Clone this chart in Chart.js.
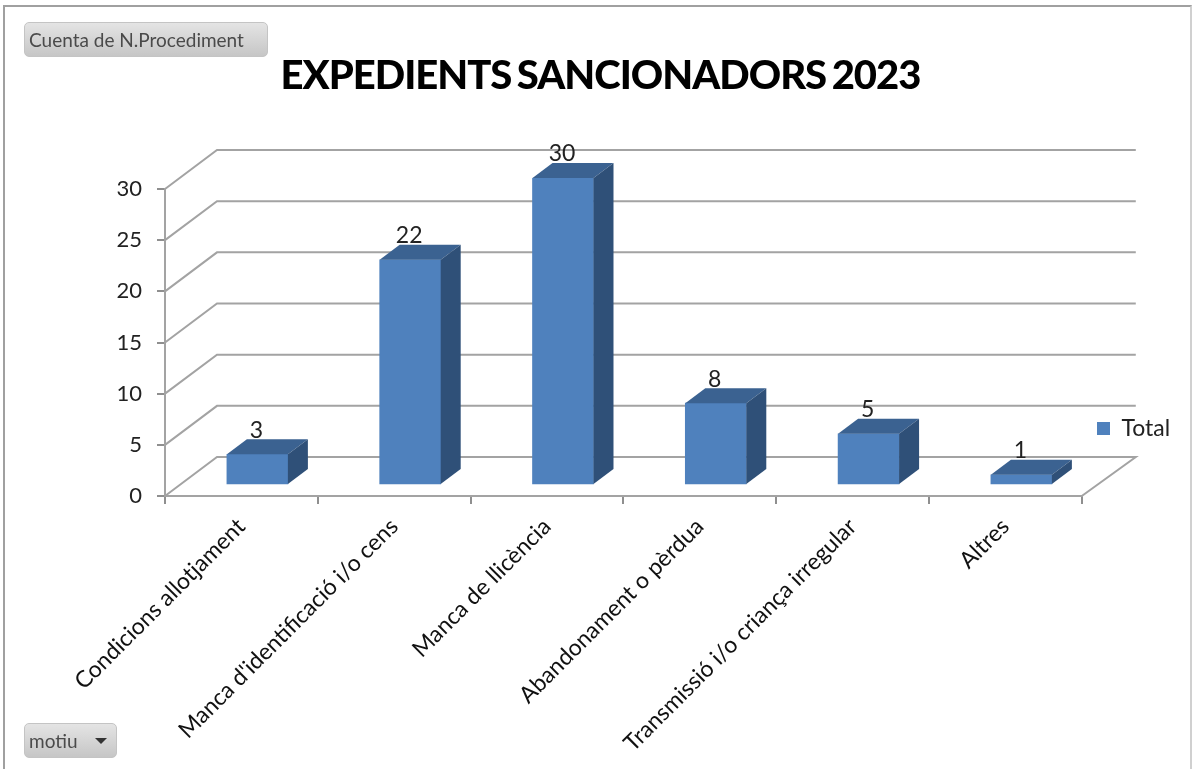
<!DOCTYPE html>
<html><head><meta charset="utf-8">
<script src="https://cdn.jsdelivr.net/npm/chart.js@4"></script>
<style>
html,body{margin:0;padding:0;background:#fff;width:1195px;height:769px;overflow:hidden}
#c{position:absolute;left:0;top:0}
#frame{position:absolute;left:3px;top:5px;width:1189px;height:770px;border:2px solid #a0a0a0;border-right-color:#d0d0d0;box-sizing:border-box}
.btn{position:absolute;box-sizing:border-box;border:1px solid #c4c4c4;border-radius:5px;background:linear-gradient(#e4e4e4,#c6c6c6);font:19px Lato,sans-serif;color:#4a4a4a;line-height:34px;padding-left:4px;white-space:nowrap}
#b1{left:24px;top:22px;width:244px;height:35px}
#b2{left:24px;top:723px;width:93px;height:35px}
#arrow{position:absolute;left:70px;top:14px;width:0;height:0;border-left:6px solid transparent;border-right:6px solid transparent;border-top:6px solid #333}
</style></head><body>
<div id="frame"></div>
<canvas id="c" width="1195" height="769"></canvas>
<div class="btn" id="b1">Cuenta de N.Procediment</div>
<div class="btn" id="b2">motiu<span id="arrow"></span></div>
<script>
const categories = ["Condicions allotjament","Manca d'identificació i/o cens","Manca de llicència","Abandonament o pèrdua","Transmissió i/o criança irregular","Altres"];
const seriesName = "Total";
const values = [3,22,30,8,5,1];
const titleText = "EXPEDIENTS SANCIONADORS 2023";

const DEPTH_X = 52, DEPTH_Y = 39;      // wall offset
const BAR_DX = 16, BAR_DY = 11;        // bars stand part-way into the floor
const SIDE_X = 20, SIDE_Y = 15;        // bar depth
const GRID = "#a3a3a3", FRONT = "#4f81bd", TOP = "#3b6291", SIDE = "#2f5078";

const fake3d = {
  id: "fake3d",
  afterLayout(chart){
    const l = chart.legend;
    l.left = 1097; l.right = 1195; l.top = 417; l.bottom = 443;
    const t = chart.titleBlock;
    t.left += 36;
    if (!t._wrapped) {
      const draw = t.draw;
      t.draw = function(){
        const c = this.ctx; c.save();
        c.letterSpacing = "-1px"; c.wordSpacing = "-3px";
        draw.call(this);
        c.restore();
      };
      t._wrapped = true;
    }
  },
  beforeDatasetsDraw(chart){
    const {ctx, scales:{x, y}} = chart;
    ctx.save();
    ctx.strokeStyle = GRID; ctx.lineWidth = 2;
    y.ticks.forEach(t => {
      const p = y.getPixelForValue(t.value);
      ctx.beginPath();
      ctx.moveTo(x.left, p);
      ctx.lineTo(x.left + DEPTH_X, p - DEPTH_Y);
      ctx.lineTo(x.right + DEPTH_X + 2, p - DEPTH_Y);
      if (t.value === 0) ctx.lineTo(x.right, p);
      ctx.stroke();
    });
    ctx.restore();
    ctx.save();
    ctx.translate(BAR_DX, -BAR_DY);
  },
  afterDatasetsDraw(chart){
    const {ctx} = chart;
    chart.getDatasetMeta(0).data.forEach((b, i) => {
      const L = b.x - b.width/2, R = b.x + b.width/2, T = b.y, B = b.base;
      ctx.fillStyle = TOP;
      ctx.beginPath();
      ctx.moveTo(L,T); ctx.lineTo(L+SIDE_X,T-SIDE_Y); ctx.lineTo(R+SIDE_X,T-SIDE_Y); ctx.lineTo(R,T);
      ctx.closePath(); ctx.fill();
      ctx.fillStyle = SIDE;
      ctx.beginPath();
      ctx.moveTo(R,T); ctx.lineTo(R+SIDE_X,T-SIDE_Y); ctx.lineTo(R+SIDE_X,B-SIDE_Y); ctx.lineTo(R,B);
      ctx.closePath(); ctx.fill();
      ctx.fillStyle = "#222";
      ctx.font = "23px Lato, sans-serif";
      ctx.textAlign = "center"; ctx.textBaseline = "middle";
      ctx.fillText(String(values[i]), b.x - 1, T - 24);
    });
    ctx.restore();
  }
};

new Chart(document.getElementById("c"), {
  type: "bar",
  data: { labels: categories, datasets: [{ label: seriesName, data: values, backgroundColor: FRONT, barThickness: 61 }] },
  plugins: [fake3d],
  options: {
    responsive: false, animation: false,
    layout: { padding: { right: 30 } },
    plugins: {
      tooltip: { enabled: false },
      title: { display: true, text: titleText, color: "#000",
        font: { family: "Lato, sans-serif", size: 40, weight: "900", lineHeight: 1.2 },
        padding: { top: 52, bottom: 89 } },
      legend: { display: true, position: "right", align: "start",
        labels: { boxWidth: 13, boxHeight: 13, padding: 0, color: "#222", font: { family: "Lato, sans-serif", size: 23 } } }
    },
    scales: {
      x: {
        grid: { color: "#8f8f8f", lineWidth: 2, drawOnChartArea: false, drawTicks: true, tickLength: 8 },
        border: { color: "#a3a3a3", width: 2 },
        ticks: { autoSkip: false, minRotation: 45, maxRotation: 45, color: "#111", padding: 9, font: { family: "Lato, sans-serif", size: 23 } },
        afterFit(s){ s.height = 273; }
      },
      y: {
        min: 0, max: 30,
        grid: { color: "#8f8f8f", lineWidth: 2, drawOnChartArea: false, drawTicks: true, tickLength: 8 },
        border: { color: "#a3a3a3", width: 2 },
        ticks: { stepSize: 5, color: "#222", padding: 15, font: { family: "Lato, sans-serif", size: 22 } },
        afterFit(s){ s.width = 165; }
      }
    }
  }
});
</script>
</body></html>
